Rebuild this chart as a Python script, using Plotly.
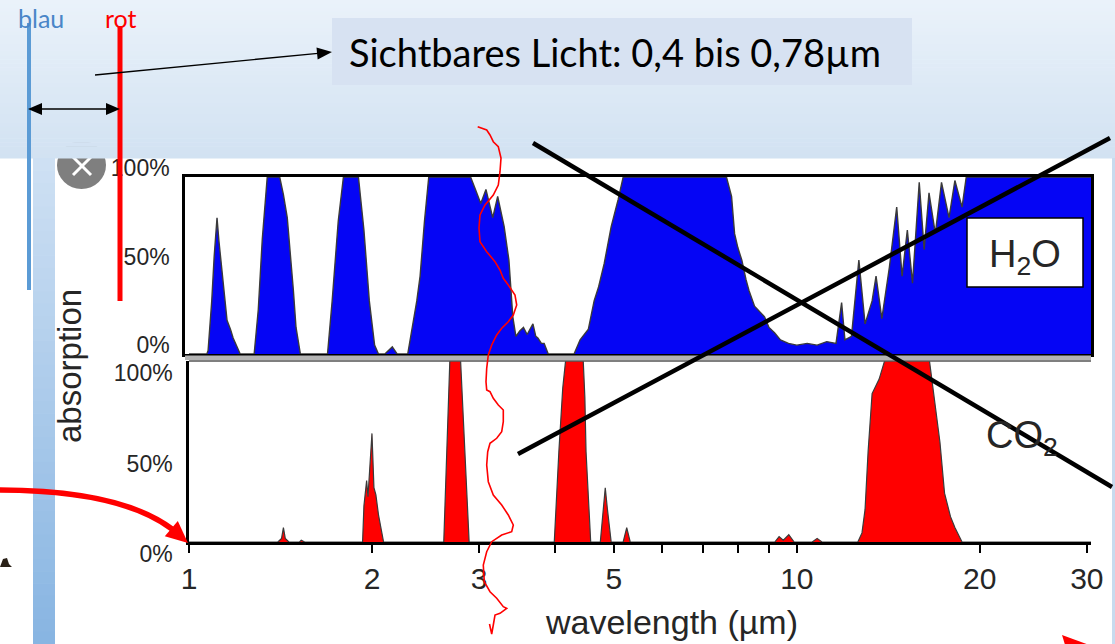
import plotly.graph_objects as go

W, H = 1115, 644

# ---------------- data ----------------
h2o_wavelength = [1.0, 1.07, 1.075, 1.09, 1.10, 1.112, 1.12, 1.13, 1.145, 1.155, 1.17, 1.182, 1.20, 1.214,
                  1.28, 1.30, 1.32, 1.345, 1.41, 1.43, 1.451, 1.47, 1.485, 1.50, 1.525,
                  1.69, 1.72, 1.76, 1.795, 1.90, 1.94, 1.98, 2.02, 2.05, 2.10, 2.16, 2.20,
                  2.29, 2.33, 2.37, 2.40, 2.44, 2.48, 2.906, 2.96, 3.02, 3.08, 3.16, 3.22, 3.27, 3.30,
                  3.36, 3.41, 3.45, 3.50, 3.55, 3.60, 3.68, 3.72, 3.75, 3.80, 3.84, 3.90,
                  4.30, 4.40, 4.54, 4.64, 4.72, 4.82, 4.95, 5.08, 5.18, 7.66, 7.81, 7.90, 8.0, 8.12,
                  8.25, 8.34, 8.52, 8.7, 8.85, 9.0, 9.19, 9.4, 9.69, 10.0, 10.4, 10.8, 11.2, 11.6,
                  11.85, 12.0, 12.3, 12.65, 12.95, 13.3, 13.5, 13.8, 14.0, 14.2, 14.6, 14.9, 15.2,
                  15.5, 15.9, 16.2, 16.5, 16.9, 17.3, 17.8, 18.2, 18.7, 19.0, 30.8]
h2o_absorption = [0.0, 0.0, 0.02, 0.30, 0.55, 0.77, 0.64, 0.50, 0.30, 0.19, 0.14, 0.09, 0.04, 0.0,
                  0.0, 0.25, 0.65, 1.0, 1.0, 0.90, 0.77, 0.55, 0.36, 0.15, 0.0,
                  0.0, 0.30, 0.75, 1.0, 1.0, 0.70, 0.30, 0.05, 0.0, 0.0, 0.04, 0.0,
                  0.0, 0.15, 0.30, 0.44, 0.75, 1.0, 1.0, 0.93, 0.85, 0.93, 0.77, 0.89, 0.78, 0.72,
                  0.53, 0.21, 0.10, 0.13, 0.15, 0.11, 0.17, 0.10, 0.09, 0.06, 0.06, 0.0,
                  0.0, 0.08, 0.14, 0.30, 0.38, 0.51, 0.72, 0.87, 1.0, 1.0, 0.89, 0.68, 0.60, 0.53,
                  0.42, 0.36, 0.27, 0.24, 0.21, 0.15, 0.12, 0.08, 0.06, 0.05, 0.06, 0.05, 0.07, 0.06,
                  0.29, 0.08, 0.10, 0.53, 0.17, 0.30, 0.44, 0.20, 0.35, 0.49, 0.83, 0.44, 0.70,
                  0.40, 0.97, 0.59, 0.91, 0.68, 0.97, 0.77, 0.98, 0.83, 1.0, 1.0]

co2_wavelength = [1.0, 1.40, 1.42, 1.43, 1.44, 1.46, 1.52, 1.53, 1.55,
                  1.93, 1.94, 1.96, 1.97, 1.985, 2.00, 2.015, 2.03, 2.05, 2.07, 2.09,
                  2.625, 2.66, 2.686, 2.70, 2.77, 2.798, 2.84, 2.89,
                  3.99, 4.03, 4.06, 4.12, 4.17, 4.45, 4.48, 4.50, 4.55, 4.58,
                  4.75, 4.79, 4.84, 4.88, 4.95, 5.18, 5.25, 5.32,
                  9.2, 9.35, 9.5, 9.7, 9.9, 10.6, 10.8, 11.0,
                  12.6, 12.8, 12.95, 13.1, 13.3, 13.66, 14.0, 16.5, 16.8, 17.2, 17.5, 17.9, 18.2, 18.7, 30.8]
co2_absorption = [0.0, 0.0, 0.02, 0.08, 0.02, 0.0, 0.0, 0.01, 0.0,
                  0.0, 0.20, 0.34, 0.25, 0.45, 0.60, 0.30, 0.26, 0.15, 0.08, 0.0,
                  0.0, 0.60, 1.0, 1.05, 1.05, 1.0, 0.50, 0.0,
                  0.0, 0.30, 0.50, 0.85, 1.02, 1.02, 0.80, 0.50, 0.20, 0.0,
                  0.0, 0.15, 0.30, 0.18, 0.0, 0.0, 0.08, 0.0,
                  0.0, 0.03, 0.01, 0.04, 0.0, 0.0, 0.02, 0.0,
                  0.0, 0.05, 0.18, 0.50, 0.82, 0.90, 1.02, 1.02, 0.82, 0.55, 0.27, 0.14, 0.08, 0.0, 0.0]

x_tickvals = [1, 2, 3, 4, 5, 6, 7, 8, 9, 10, 20, 30]
x_ticktext = ['1', '2', '3', '', '5', '', '', '', '', '10', '20', '30']
y_tickvals = [0, 0.5, 1.0]
y_ticktext = ['0%', '50%', '100%']
gas_labels = ['H<sub>2</sub>O', 'CO<sub>2</sub>']
x_title = 'wavelength (µm)'
y_title = 'absorption'
slide_text = 'Sichtbares Licht: 0,4 bis 0,78µm'
blue_label = 'blau'
red_label = 'rot'

# ---------------- helpers (pixel -> paper) ----------------
def fx(x):
    return x / W

def fy(y):
    return 1 - y / H

def pth(points, close=False):
    s = 'M ' + ' L '.join(f'{fx(x):.5f},{fy(y):.5f}' for x, y in points)
    return s + (' Z' if close else '')

def head(tip, tail, length, width):
    import math
    dx, dy = tip[0] - tail[0], tip[1] - tail[1]
    d = math.hypot(dx, dy)
    ux, uy = dx / d, dy / d
    bx, by = tip[0] - ux * length, tip[1] - uy * length
    nx, ny = -uy, ux
    return pth([tip, (bx + nx * width / 2, by + ny * width / 2),
                (bx - nx * width / 2, by - ny * width / 2)], close=True)

def mix(c1, c2, t):
    return 'rgb(%d,%d,%d)' % tuple(round(a + (b - a) * t) for a, b in zip(c1, c2))

CHART_FONT = 'Liberation Sans, Arial, sans-serif'
SLIDE_FONT = 'Lato, Open Sans, sans-serif'
INK = '#262626'

fig = go.Figure()
fig.add_trace(go.Scatter(x=h2o_wavelength, y=h2o_absorption, mode='lines', fill='tozeroy',
                         fillcolor='#0505f5', line=dict(color='#3a3a3a', width=1.4),
                         xaxis='x', yaxis='y', hoverinfo='skip'))
fig.add_trace(go.Scatter(x=co2_wavelength, y=co2_absorption, mode='lines', fill='tozeroy',
                         fillcolor='#ff0000', line=dict(color='#3a3a3a', width=1.2),
                         xaxis='x2', yaxis='y2', hoverinfo='skip'))

xmax = 1.484
fig.update_layout(
    width=W, height=H, autosize=False, showlegend=False,
    margin=dict(l=0, r=0, t=0, b=0, pad=0, autoexpand=False),
    paper_bgcolor='white', plot_bgcolor='rgba(0,0,0,0)',
    xaxis=dict(type='log', domain=[fx(185), fx(1091)], range=[-0.00658, xmax], automargin=False,
               showgrid=False, zeroline=False, showticklabels=False, ticks='',
               showline=True, mirror=True, linecolor='black', linewidth=2.5, anchor='y'),
    yaxis=dict(domain=[fy(354), fy(177)], range=[0, 1], showgrid=False, zeroline=False,
               automargin=False, tickvals=y_tickvals, ticktext=y_ticktext, ticks='',
               ticklabelshift=-9, ticklabelstandoff=8,
               tickfont=dict(family=CHART_FONT, size=23, color=INK),
               showline=True, mirror=True, linecolor='black', linewidth=2.5, anchor='x'),
    xaxis2=dict(type='log', domain=[fx(189), fx(1091)], range=[0, xmax], automargin=False,
                showgrid=False, zeroline=False, tickvals=x_tickvals, ticktext=x_ticktext,
                ticks='outside', ticklen=8, tickwidth=2, tickcolor='black',
                tickfont=dict(family=CHART_FONT, size=30, color=INK),
                showline=True, linecolor='black', linewidth=2.5, anchor='y2'),
    yaxis2=dict(domain=[fy(542), fy(361)], range=[0, 1], showgrid=False, zeroline=False,
                automargin=False, tickvals=y_tickvals, ticktext=y_ticktext, ticks='',
                ticklabelshift=12, ticklabelstandoff=9,
                tickfont=dict(family=CHART_FONT, size=23, color=INK),
                showline=True, linecolor='black', linewidth=2.5, anchor='x2'),
)

shapes = []
# close-icon (part of the pasted picture, under the slide band)
shapes.append(dict(type='circle', xref='paper', yref='paper', layer='below',
                   x0=fx(57), x1=fx(106), y0=fy(189), y1=fy(141),
                   fillcolor='#7f7f7f', line=dict(width=0)))
for a, b in [((73, 157), (91, 175)), ((73, 175), (91, 157))]:
    shapes.append(dict(type='line', xref='paper', yref='paper', layer='below',
                       x0=fx(a[0]), y0=fy(a[1]), x1=fx(b[0]), y1=fy(b[1]),
                       line=dict(color='white', width=3)))
# slide top band gradient
n = 40
for i in range(n):
    y0, y1 = 158 * i / n, 158 * (i + 1) / n + 0.6
    shapes.append(dict(type='rect', xref='paper', yref='paper', layer='below',
                       x0=0, x1=1, y0=fy(y1), y1=fy(y0),
                       fillcolor=mix((234, 242, 250), (210, 226, 242), i / (n - 1)),
                       line=dict(width=0)))
# left slide bar gradient
n = 40
for i in range(n):
    y0 = 158 + (644 - 158) * i / n
    y1 = 158 + (644 - 158) * (i + 1) / n + 0.6
    shapes.append(dict(type='rect', xref='paper', yref='paper', layer='below',
                       x0=fx(33), x1=fx(55), y0=fy(y1), y1=fy(y0),
                       fillcolor=mix((206, 224, 243), (136, 181, 226), i / (n - 1)),
                       line=dict(width=0)))
# right slide strip
shapes.append(dict(type='rect', xref='paper', yref='paper', layer='below',
                   x0=fx(1112), x1=1, y0=0, y1=fy(158),
                   fillcolor='#c8dbef', line=dict(width=0)))

# gap between the two panels
shapes.append(dict(type='rect', xref='paper', yref='paper', layer='above',
                   x0=fx(185), x1=fx(1091), y0=fy(360), y1=fy(355.5),
                   fillcolor='#b4b4b4', line=dict(width=0)))
shapes.append(dict(type='line', xref='paper', yref='paper', layer='above',
                   x0=fx(189), x1=fx(1091), y0=fy(361), y1=fy(361),
                   line=dict(color='#555555', width=1.6)))
# H2O label box
shapes.append(dict(type='rect', xref='paper', yref='paper', layer='above',
                   x0=fx(967), x1=fx(1083), y0=fy(287), y1=fy(218),
                   fillcolor='white', line=dict(color='black', width=1.5)))

# black cross
shapes.append(dict(type='line', xref='paper', yref='paper', layer='above',
                   x0=fx(533), y0=fy(143), x1=fx(1112), y1=fy(487),
                   line=dict(color='black', width=4.5)))
shapes.append(dict(type='line', xref='paper', yref='paper', layer='above',
                   x0=fx(518), y0=fy(454), x1=fx(1110), y1=fy(138),
                   line=dict(color='black', width=4.5)))

# red hand-drawn wavy line
wavy = [(477.7, 126.7), (486.7, 130), (490, 135), (493.3, 141.7), (498.3, 146.7), (501, 158),
        (500, 171.7), (498.3, 185), (493.3, 195), (485, 205), (480, 215), (479, 228),
        (480, 241.7), (486.7, 251.7), (495, 261.7), (500, 270), (503.3, 278.3), (508.3, 285),
        (515, 295), (516.7, 305), (513.3, 315), (508.3, 321.7), (501.7, 328.3), (496.7, 335),
        (491.7, 345), (488.3, 355), (486.7, 368.3), (486, 381.7), (486.7, 390), (490, 391.7),
        (493.3, 398.3), (498.3, 405), (503.3, 410), (503.3, 421.7), (501.7, 431.7),
        (496.7, 438.3), (490, 443.3), (487.7, 451.7), (486.7, 465), (488.3, 481.7),
        (493.3, 495), (501.7, 505), (508.3, 515), (513.3, 525), (511.7, 531.7), (501.7, 535),
        (491.7, 541.7), (486.7, 551.7), (483.3, 565), (484.3, 581.7), (490, 591.7),
        (496.7, 598.3), (503.3, 606.7), (506.7, 608.3), (500, 613.3), (495, 615),
        (493.3, 625), (491.7, 634), (489.5, 624)]
shapes.append(dict(type='path', xref='paper', yref='paper', layer='above',
                   path=pth(wavy), line=dict(color='#ff0000', width=1.6)))

# red curved arrow (left)
shapes.append(dict(type='path', xref='paper', yref='paper', layer='above',
                   path=f'M {fx(-2)},{fy(490)} Q {fx(120)},{fy(490)} {fx(172)},{fy(529)}',
                   line=dict(color='#ff0000', width=5.5)))
shapes.append(dict(type='path', xref='paper', yref='paper', layer='above',
                   path=head((188, 543), (167, 525), 22, 20),
                   fillcolor='#ff0000', line=dict(width=0)))
# red arrowhead at bottom right (partly off-screen)
shapes.append(dict(type='path', xref='paper', yref='paper', layer='above',
                   path=pth([(1062, 635), (1092, 646), (1066, 648)], close=True),
                   fillcolor='#ff0000', line=dict(width=0)))
# small dark blob at left edge
shapes.append(dict(type='path', xref='paper', yref='paper', layer='above',
                   path=pth([(0, 567), (3, 559), (7, 558), (9, 564), (12, 567)], close=True),
                   fillcolor='#2a2118', line=dict(width=0)))

# blue and red marker lines
shapes.append(dict(type='line', xref='paper', yref='paper', layer='above',
                   x0=fx(29), x1=fx(29), y0=fy(23), y1=fy(290),
                   line=dict(color='#5b9bd5', width=4)))
shapes.append(dict(type='line', xref='paper', yref='paper', layer='above',
                   x0=fx(120), x1=fx(120), y0=fy(26), y1=fy(301),
                   line=dict(color='#ff0000', width=5)))

# text box
shapes.append(dict(type='rect', xref='paper', yref='paper', layer='above',
                   x0=fx(332), x1=fx(912), y0=fy(85), y1=fy(18),
                   fillcolor='#d7e2f2', line=dict(width=0)))

# pointer arrow to the text box
shapes.append(dict(type='line', xref='paper', yref='paper', layer='above',
                   x0=fx(95), y0=fy(75), x1=fx(318), y1=fy(53.3),
                   line=dict(color='black', width=1.3)))
shapes.append(dict(type='path', xref='paper', yref='paper', layer='above',
                   path=head((332, 52), (95, 75), 15, 12),
                   fillcolor='black', line=dict(width=0)))
# double arrow between blue and red
shapes.append(dict(type='line', xref='paper', yref='paper', layer='above',
                   x0=fx(40), y0=fy(109), x1=fx(109), y1=fy(109),
                   line=dict(color='black', width=1.3)))
shapes.append(dict(type='path', xref='paper', yref='paper', layer='above',
                   path=head((28, 109), (120, 109), 14, 12),
                   fillcolor='black', line=dict(width=0)))
shapes.append(dict(type='path', xref='paper', yref='paper', layer='above',
                   path=head((120, 109), (28, 109), 14, 12),
                   fillcolor='black', line=dict(width=0)))

fig.update_layout(shapes=shapes)

ann = [
    dict(text=blue_label, x=fx(16), y=fy(18), xanchor='left', yanchor='middle',
         font=dict(family=SLIDE_FONT, size=25, color='#4a86c8')),
    dict(text=red_label, x=fx(103), y=fy(18), xanchor='left', yanchor='middle',
         font=dict(family=SLIDE_FONT, size=25, color='#ff0000')),
    dict(text=slide_text, x=fx(347), y=fy(52), xanchor='left', yanchor='middle',
         font=dict(family=SLIDE_FONT, size=38, color='black')),
    dict(text=gas_labels[0], x=fx(1025), y=fy(257), xanchor='center', yanchor='middle',
         font=dict(family=CHART_FONT, size=38, color=INK)),
    dict(text=gas_labels[1], x=fx(1022), y=fy(438), xanchor='center', yanchor='middle',
         font=dict(family=CHART_FONT, size=38, color=INK)),
    dict(text=x_title, x=fx(671), y=fy(622), xanchor='center', yanchor='middle',
         font=dict(family=CHART_FONT, size=34, color=INK)),
    dict(text=y_title, x=fx(69), y=fy(366), xanchor='center', yanchor='middle', textangle=-90,
         font=dict(family=CHART_FONT, size=33, color=INK)),
]
for a in ann:
    a.update(xref='paper', yref='paper', showarrow=False)
fig.update_layout(annotations=ann)

fig.write_html('out.html', config=dict(responsive=False, displayModeBar=False),
               post_script="document.body.style.margin='0';document.body.style.overflow='hidden';")
